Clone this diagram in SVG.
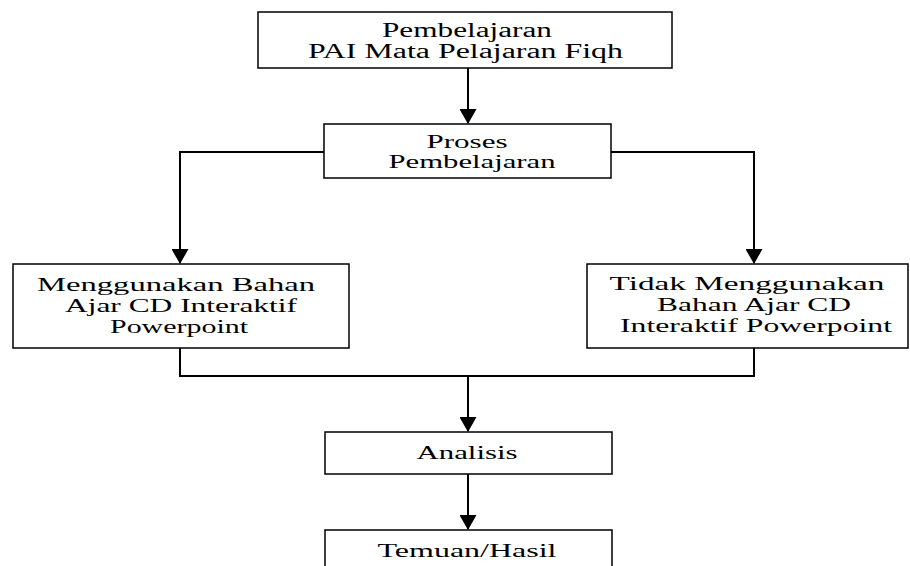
<svg xmlns="http://www.w3.org/2000/svg" width="910" height="566" viewBox="0 0 910 566">
<style>
.box{fill:#fff;stroke:#000;stroke-width:1.5}
text{font-family:"Liberation Serif","Times New Roman",Tinos,serif;fill:#000;text-anchor:middle}
.big{font-size:20px}
.mid{font-size:19.5px}
.conn{fill:none;stroke:#000;stroke-width:2}
</style>
<defs>
<marker id="arr" viewBox="0 0 15 17" refX="14" refY="8.5" markerWidth="15" markerHeight="17" markerUnits="userSpaceOnUse" orient="auto">
<path d="M0,0 L15,8.5 L0,17 z" fill="#000"/>
</marker>
</defs>
<rect width="910" height="566" fill="#fff"/>
<g id="connectors">
<path class="conn" d="M468,68 L468,123" marker-end="url(#arr)"/>
<path class="conn" d="M324,152 L180,152 L180,263" marker-end="url(#arr)"/>
<path class="conn" d="M611,152 L754,152 L754,263" marker-end="url(#arr)"/>
<path class="conn" d="M180,348 L180,376 L754,376 L754,348"/>
<path class="conn" d="M468,376 L468,431" marker-end="url(#arr)"/>
<path class="conn" d="M468,474 L468,529" marker-end="url(#arr)"/>
</g>
<g id="n1">
<rect class="box" x="258" y="12" width="414" height="56"/>
<text class="big" x="467" y="37" textLength="170" lengthAdjust="spacingAndGlyphs">Pembelajaran</text>
<text class="big" x="465.5" y="58" textLength="315" lengthAdjust="spacingAndGlyphs">PAI Mata Pelajaran Fiqh</text>
</g>
<g id="n2">
<rect class="box" x="324" y="124" width="287" height="54"/>
<text class="mid" x="467" y="148" textLength="81" lengthAdjust="spacingAndGlyphs">Proses</text>
<text class="mid" x="472" y="168" textLength="167" lengthAdjust="spacingAndGlyphs">Pembelajaran</text>
</g>
<g id="n3">
<rect class="box" x="13" y="264" width="336" height="84"/>
<text class="mid" x="176" y="291" textLength="278" lengthAdjust="spacingAndGlyphs">Menggunakan Bahan</text>
<text class="mid" x="181" y="312" textLength="232" lengthAdjust="spacingAndGlyphs">Ajar CD Interaktif</text>
<text class="mid" x="179" y="333" textLength="138" lengthAdjust="spacingAndGlyphs">Powerpoint</text>
</g>
<g id="n4">
<rect class="box" x="587" y="264" width="321" height="84"/>
<text class="mid" x="747" y="290" textLength="275" lengthAdjust="spacingAndGlyphs">Tidak Menggunakan</text>
<text class="mid" x="754" y="311" textLength="194" lengthAdjust="spacingAndGlyphs">Bahan Ajar CD</text>
<text class="mid" x="756" y="332" textLength="272" lengthAdjust="spacingAndGlyphs">Interaktif Powerpoint</text>
</g>
<g id="n5">
<rect class="box" x="325" y="432" width="287" height="42"/>
<text class="mid" x="467" y="459" textLength="101" lengthAdjust="spacingAndGlyphs">Analisis</text>
</g>
<g id="n6">
<rect class="box" x="325" y="530" width="287" height="60"/>
<text class="mid" x="467" y="557" textLength="179" lengthAdjust="spacingAndGlyphs">Temuan/Hasil</text>
</g>
</svg>
